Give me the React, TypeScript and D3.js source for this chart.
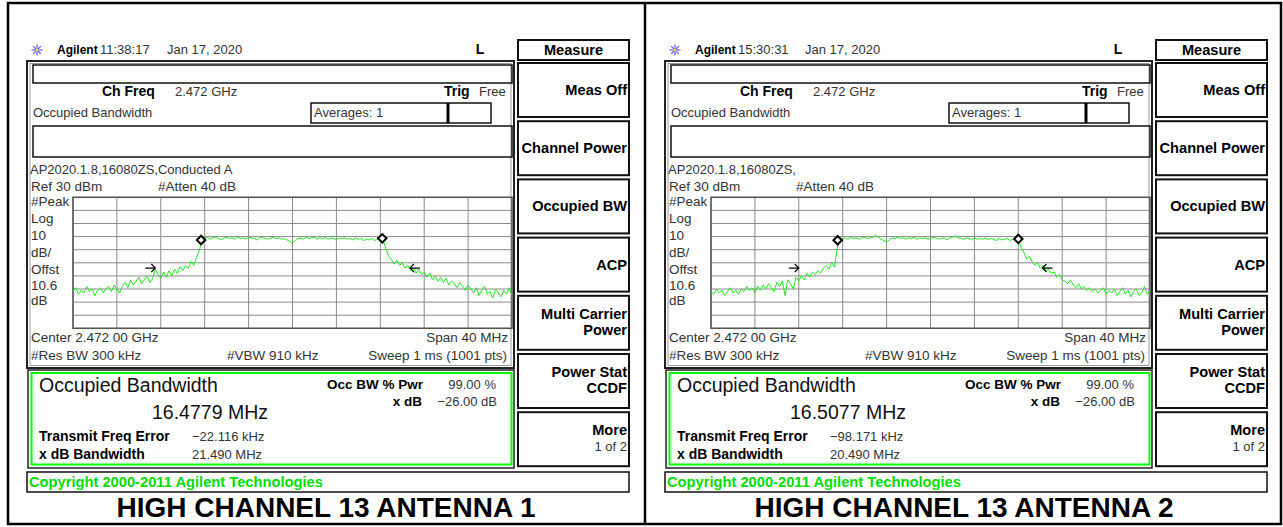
import React from 'react';
import * as d3 from 'd3';

// sweep points, offset from the 2.472 GHz centre in MHz
const freqOffsets = d3.range(-20, 20.001, 0.25);
const xTicks = [-20, -16, -12, -8, -4, 0, 4, 8, 12, 16, 20];
const yTicks = [30, 20, 10, 0, -10, -20, -30, -40, -50, -60, -70];

// trace values in dBm
const traceA = [
  -42, -39, -44, -41, -43, -38, -42, -40, -45, -41, -39, -43, -40, -38, -42, -37, -40,
  -43, -38, -35, -39, -33, -37, -34, -31, -36, -33, -30, -35, -32, -25, -29, -32,
  -27, -31, -26, -30, -25, -28, -23, -26, -22, -24, -19, -22, -16, -11,
  -3,
  -1, -0.5, -2, -1, -0.5, -1.5, -2.5, -1, -0.5, -1.5,
  -1, -2, -0.5, -1.5, -1, -2, -0.5, -1, -1.5, -2.5,
  -1, -0.5, -1.5, -2, -1, -0.5, -1.5, -1, -2, -1.5,
  -2.5, -3.5, -5, -3, -1.5, -1, -2, -0.5, -1.5, -1,
  -0.5, -2, -1, -1.5, -0.5, -2, -1, -1.5, -2.5, -1,
  -1.5, -1, -2, -1.5, -2.5, -1, -2, -1.5, -3, -2,
  -2.5, -1.5, -3, -2, -1.5,
  -3, -9, -15, -17, -21, -18, -22, -20, -24, -22, -26, -24, -28, -25, -29, -27,
  -31, -28, -33, -30, -34, -31, -35, -32, -37, -34, -36, -39, -35, -38, -41, -37,
  -40, -43, -39, -45, -41, -38, -44, -42, -47, -40, -43, -46, -41, -44, -39, -45,
];
const traceB = [
  -42, -44, -40, -43, -41, -45, -42, -39, -43, -41, -44, -40, -42, -38, -41, -39, -43,
  -38, -41, -37, -40, -36, -39, -42, -35, -38, -34, -45, -33, -36, -40, -31, -34,
  -30, -33, -28, -31, -27, -29, -26, -28, -24, -22, -25, -20, -23, -9,
  -2,
  -1.5, -1, -2, -0.5, -1.5, -1, -2, -1, -0.5, -1.5,
  -1, -0.5, 1, -0.5, -2, -3, -4, -2.5, -1, -1.5,
  -0.5, -1.5, -1, -2, -1, -1.5, -0.5, -2, -1, -1.5,
  -1, -2, -1.5, -0.5, -1, -2, -1.5, -1, -2.5, -1,
  -0.5, 0.5, -1, -1.5, -2, -1, -1.5, -2.5, -1, -2,
  -1.5, -2, -1, -2.5, -1.5, -2, -3, -1.5, -2.5, -2,
  -1.5, -3, -2, -2.5, -2,
  -8,
  -12, -17, -15, -19, -22, -20, -24, -22, -26, -25, -28, -27, -31, -29, -33,
  -34, -36, -33, -37, -39, -36, -40, -38, -41, -39, -42, -40, -43, -41, -39, -44,
  -41, -43, -40, -45, -42, -39, -44, -41, -46, -42, -40, -45, -43, -38, -44, -41,
];

// occupied-bandwidth diamonds and x dB arrows (MHz, dBm)
const obwEdgesA = [-8.33, 8.18];
const obwLevelsA = [-2.6, -1.3];
const xdbArrowsA = [-12.5, 10.7];
const obwEdgesB = [-8.46, 8.0];
const obwLevelsB = [-2.8, -1.8];
const xdbArrowsB = [-12.0, 10.2];
const xdbLevel = -24;

const panelTimes = ['11:38:17', '15:30:31'];
const panelNotes = ['AP2020.1.8,16080ZS,Conducted A', 'AP2020.1.8,16080ZS,'];
const obwResults = ['16.4779 MHz', '16.5077 MHz'];
const freqErrors = ['\u221222.116 kHz', '\u221298.171 kHz'];
const xdbBandwidths = ['21.490 MHz', '20.490 MHz'];
const panelTitles = ['HIGH CHANNEL 13 ANTENNA 1', 'HIGH CHANNEL 13 ANTENNA 2'];
const sideLabels = ['#Peak', 'Log', '10', 'dB/', 'Offst', '10.6', 'dB'];
const softkeys = [
  ['Meas Off'],
  ['Channel Power'],
  ['Occupied BW'],
  ['ACP'],
  ['Multi Carrier', 'Power'],
  ['Power Stat', 'CCDF'],
  ['More', '1 of 2'],
];

const SANS = '"Liberation Sans", Arial, sans-serif';
const TXT = '#333';
const GREEN = '#22e622';

const x = d3.scaleLinear().domain([-20, 20]).range([73, 512]);
const y = d3.scaleLinear().domain([-70, 30]).range([328.3, 197.3]);

const traceLine = d3
  .line<number>()
  .x((_, i) => x(freqOffsets[i]))
  .y((d) => y(d));

function Logo({ cx, cy }: { cx: number; cy: number }) {
  const rays = d3.range(8).map((i) => (i * Math.PI) / 4);
  return (
    <g stroke="#5a5aff" strokeWidth={1.2}>
      {rays.map((a, i) => (
        <line key={i} x1={cx} y1={cy} x2={cx + Math.cos(a) * 5.5} y2={cy + Math.sin(a) * 5.5} />
      ))}
      <circle cx={cx} cy={cy} r={1.6} fill="#ffd23a" stroke="none" />
    </g>
  );
}

function Diamond({ cx, cy }: { cx: number; cy: number }) {
  return (
    <rect
      x={cx - 3}
      y={cy - 3}
      width={6}
      height={6}
      fill="#fff"
      stroke="#000"
      strokeWidth={2}
      transform={`rotate(45 ${cx} ${cy})`}
    />
  );
}

function Arrow({ tip, dir }: { tip: number; dir: number }) {
  const ty = y(xdbLevel);
  const tx = x(tip);
  const tail = tx - dir * 10;
  return (
    <path
      d={`M${tail},${ty}L${tx},${ty}M${tx - dir * 4},${ty - 4}L${tx},${ty}L${tx - dir * 4},${ty + 4}`}
      stroke="#000"
      strokeWidth={1.2}
      fill="none"
    />
  );
}

function Screen({ idx, dx, trace, edges, levels, arrows }: any) {
  const T = (props: any) => (
    <text fontFamily={SANS} fontSize={13} fill={TXT} {...props} />
  );
  const B = (props: any) => (
    <text fontFamily={SANS} fontSize={14} fontWeight="bold" fill="#000" {...props} />
  );
  return (
    <g transform={`translate(${dx},0)`}>
      {/* header */}
      <Logo cx={37} cy={50} />
      <B x={57} y={54} fontSize={12}>Agilent</B>
      <T x={100} y={54}>{panelTimes[idx]}</T>
      <T x={167} y={54}>Jan 17, 2020</T>
      <B x={480} y={54} textAnchor="middle">L</B>

      {/* screen frame */}
      <rect x={27} y={61} width={487} height={307} fill="none" stroke="#222" strokeWidth={2} />
      <rect x={30} y={63.5} width={481} height={302} fill="none" stroke="#999" strokeWidth={1} />
      <rect x={33} y={65} width={479} height={18} fill="none" stroke="#111" strokeWidth={1.5} />
      <B x={102} y={96}>Ch Freq</B>
      <T x={175} y={96}>2.472 GHz</T>
      <B x={444} y={96}>Trig</B>
      <T x={479} y={96}>Free</T>
      <T x={33} y={117}>Occupied Bandwidth</T>
      <rect x={311} y={103} width={180} height={20} fill="none" stroke="#111" strokeWidth={1.5} />
      <line x1={448} x2={448} y1={103} y2={123} stroke="#000" strokeWidth={3} />
      <T x={314} y={117}>Averages: 1</T>
      <rect x={33} y={126} width={479} height={31} fill="none" stroke="#111" strokeWidth={1.5} />
      <T x={30} y={174}>{panelNotes[idx]}</T>
      <T x={31} y={191} fontSize={13.5}>Ref 30 dBm</T>
      <T x={158} y={191} fontSize={13.5}>#Atten 40 dB</T>
      {sideLabels.map((s, i) => (
        <T key={s + i} x={31} y={[206, 223, 240, 257, 274, 290, 305][i]} fontSize={13.5}>{s}</T>
      ))}

      {/* graticule */}
      <g stroke="#8a8a8a" strokeWidth={1}>
        {xTicks.map((t) => (
          <line key={'x' + t} x1={x(t)} x2={x(t)} y1={y(30)} y2={y(-70)} />
        ))}
        {yTicks.map((t) => (
          <line key={'y' + t} x1={x(-20)} x2={x(20)} y1={y(t)} y2={y(t)} />
        ))}
      </g>
      <rect x={x(-20)} y={y(30)} width={x(20) - x(-20)} height={y(-70) - y(30)} fill="none" stroke="#555" strokeWidth={1.5} />
      <path d={traceLine(trace) || ''} fill="none" stroke={GREEN} strokeWidth={1} />
      {edges.map((f: number, i: number) => (
        <Diamond key={'d' + i} cx={x(f)} cy={y(levels[i])} />
      ))}
      <Arrow tip={arrows[0]} dir={1} />
      <Arrow tip={arrows[1]} dir={-1} />

      <T x={31} y={342} fontSize={13.5}>Center 2.472 00 GHz</T>
      <T x={508} y={342} textAnchor="end" fontSize={13.5}>Span 40 MHz</T>
      <T x={31} y={360} fontSize={13.5}>#Res BW 300 kHz</T>
      <T x={227} y={360} fontSize={13.5}>#VBW 910 kHz</T>
      <T x={507} y={360} textAnchor="end" fontSize={13.5}>Sweep 1 ms (1001 pts)</T>

      {/* result box */}
      <rect x={28} y={370} width={486} height={98} fill="none" stroke="#222" strokeWidth={1.5} />
      <rect x={31.5} y={373} width={480} height={91.5} fill="none" stroke="#00ff00" strokeWidth={2} />
      <T x={39} y={392} fontSize={19.5} fill="#111">Occupied Bandwidth</T>
      <T x={152} y={419} fontSize={19.5} fill="#111">{obwResults[idx]}</T>
      <B x={327} y={389} fontSize={13.5}>Occ BW % Pwr</B>
      <T x={496} y={389} textAnchor="end">99.00 %</T>
      <B x={422} y={406} fontSize={13.5} textAnchor="end">x dB</B>
      <T x={497} y={406} textAnchor="end">{'\u221226.00 dB'}</T>
      <B x={39} y={441}>Transmit Freq Error</B>
      <T x={192} y={441}>{freqErrors[idx]}</T>
      <B x={39} y={459}>x dB Bandwidth</B>
      <T x={192} y={459}>{xdbBandwidths[idx]}</T>

      {/* copyright bar */}
      <rect x={27} y={472} width={602} height={20} fill="none" stroke="#111" strokeWidth={1.5} />
      <B x={29} y={487} fill="#00dd00" fontSize={14.7}>Copyright 2000-2011 Agilent Technologies</B>

      {/* softkeys */}
      <rect x={518} y={40} width={111} height={20} fill="none" stroke="#111" strokeWidth={2} />
      <B x={573.5} y={55} textAnchor="middle" fontSize={14.6}>Measure</B>
      {softkeys.map((lines, i) => {
        const top = 63 + i * 58.2;
        return (
          <g key={i}>
            <rect x={518} y={top} width={111} height={54} fill="none" stroke="#111" strokeWidth={2} />
            {lines.length === 1 ? (
              <B x={627} y={top + 32} textAnchor="end" fontSize={14.6}>{lines[0]}</B>
            ) : lines[1] === '1 of 2' ? (
              <>
                <B x={627} y={top + 23} textAnchor="end" fontSize={14.6}>{lines[0]}</B>
                <T x={627} y={top + 39} textAnchor="end">{lines[1]}</T>
              </>
            ) : (
              <>
                <B x={627} y={top + 23} textAnchor="end" fontSize={14.6}>{lines[0]}</B>
                <B x={627} y={top + 39} textAnchor="end" fontSize={14.6}>{lines[1]}</B>
              </>
            )}
          </g>
        );
      })}

      {/* caption */}
      <text x={326} y={517} textAnchor="middle" fontFamily={SANS} fontWeight="bold" fontSize={28} fill="#000">
        {panelTitles[idx]}
      </text>
    </g>
  );
}

export default function App() {
  return (
    <svg width={1283} height={527} style={{ position: 'absolute', left: 0, top: 0, background: '#fff' }}>
      <rect x={0} y={0} width={1283} height={527} fill="#fff" />
      <rect x={8} y={3} width={1273} height={521} fill="none" stroke="#000" strokeWidth={2.5} />
      <line x1={645} x2={645} y1={3} y2={524} stroke="#000" strokeWidth={2.5} />
      <Screen idx={0} dx={0} trace={traceA} edges={obwEdgesA} levels={obwLevelsA} arrows={xdbArrowsA} />
      <Screen idx={1} dx={638} trace={traceB} edges={obwEdgesB} levels={obwLevelsB} arrows={xdbArrowsB} />
    </svg>
  );
}
